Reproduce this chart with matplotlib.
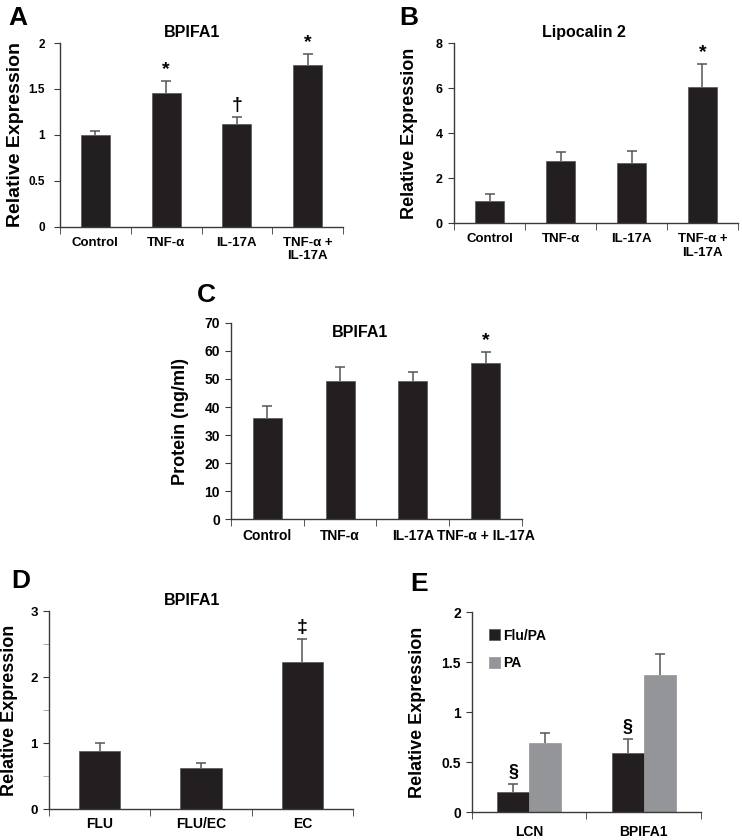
import numpy as np
import matplotlib.pyplot as plt

plt.rcParams['font.family'] = ['Liberation Sans', 'DejaVu Sans']
plt.rcParams['font.weight'] = 'bold'
plt.rcParams['axes.labelweight'] = 'bold'

# panel A - BPIFA1 mRNA
a_labels = ['Control', 'TNF-α', 'IL-17A', 'TNF-α +\nIL-17A']
a_values = [1.0, 1.455, 1.117, 1.76]
a_errors = [0.04, 0.135, 0.08, 0.12]
a_marks = ['', '*', '†', '*']

# panel B - Lipocalin 2
b_labels = ['Control', 'TNF-α', 'IL-17A', 'TNF-α +\nIL-17A']
b_values = [1.0, 2.76, 2.65, 6.06]
b_errors = [0.29, 0.41, 0.56, 1.01]
b_marks = ['', '', '', '*']

# panel C - BPIFA1 protein
c_labels = ['Control', 'TNF-α', 'IL-17A', 'TNF-α + IL-17A']
c_values = [36.0, 49.2, 49.2, 55.6]
c_errors = [4.4, 5.1, 3.3, 4.2]
c_marks = ['', '', '', '*']

# panel D
d_labels = ['FLU', 'FLU/EC', 'EC']
d_values = [0.877, 0.615, 2.224]
d_errors = [0.13, 0.08, 0.35]
d_marks = ['', '', '‡']

# panel E
e_groups = ['LCN', 'BPIFA1']
e_flupa = [0.2, 0.593]
e_flupa_err = [0.083, 0.137]
e_pa = [0.69, 1.37]
e_pa_err = [0.103, 0.21]
e_marks = ['§', '§']

BAR = '#231f20'
GREY = '#939598'
AXC = '#3a3a3a'
ERRC = '#555555'


def style_axes(ax, n, ymax, ystep, yminor=None, xsize=9.5, ysize=9, ypad=4, xpad=7):
    for s in ('top', 'right'):
        ax.spines[s].set_visible(False)
    for s in ('left', 'bottom'):
        ax.spines[s].set_color(AXC)
        ax.spines[s].set_linewidth(1.0)
    ax.set_xlim(-0.5, n - 0.5)
    ax.set_ylim(0, ymax)
    yt = np.arange(0, ymax + ystep / 2, ystep)
    ax.set_yticks(yt)
    ax.set_yticklabels(['%g' % v for v in yt])
    if yminor is not None:
        ax.set_yticks(np.arange(0, ymax, yminor), minor=True)
        ax.tick_params(axis='y', which='minor', length=4, color='#999999')
    ax.set_xticks(np.arange(-0.5, n, 1.0), minor=True)
    ax.tick_params(axis='x', which='major', length=0, pad=xpad, labelsize=xsize)
    ax.tick_params(axis='x', which='minor', length=5, color=AXC)
    ax.tick_params(axis='y', which='major', length=4, color=AXC, labelsize=ysize, pad=ypad)


def upper_err(ax, x, values, errors):
    x = np.asarray(x, dtype=float)
    tops = np.asarray(values) + np.asarray(errors)
    ax.vlines(x, values, tops, color=ERRC, linewidth=1.1, zorder=1)
    ax.plot(x, tops, linestyle='none', marker='_', markersize=7,
            markeredgewidth=1.1, color=ERRC, zorder=1)


def marks_above(ax, x, values, errors, marks, size=14):
    for xi, v, e, m in zip(x, values, errors, marks):
        if m:
            ax.annotate(m, (xi, v + e), xytext=(0, 2), textcoords='offset points',
                        ha='center', va='bottom', fontsize=size, fontweight='bold')


def bars(ax, labels, values, errors, marks, width=0.41):
    x = np.arange(len(values))
    ax.bar(x, values, width, color=BAR, edgecolor='#555555', linewidth=0.5, zorder=2)
    upper_err(ax, x, values, errors)
    ax.set_xticks(x)
    ax.set_xticklabels(labels)
    marks_above(ax, x, values, errors, marks)


fig = plt.figure(figsize=(7.42, 8.4), dpi=100)

# A
ax = fig.add_axes([0.0809, 0.7298, 0.3814, 0.2190])
bars(ax, a_labels, a_values, a_errors, a_marks)
style_axes(ax, 4, 2, 0.5, ysize=8.5, ypad=7)
ax.set_ylabel('Relative Expression', fontsize=14)
ax.yaxis.set_label_coords(-0.128, 0.5)
ax.set_title('BPIFA1', fontsize=11.5, fontweight='bold', pad=4, x=0.466)

# B
ax = fig.add_axes([0.6119, 0.7345, 0.3827, 0.2143])
bars(ax, b_labels, b_values, b_errors, b_marks)
style_axes(ax, 4, 8, 2, ysize=9, ypad=4)
ax.set_ylabel('Relative Expression', fontsize=13)
ax.yaxis.set_label_coords(-0.128, 0.5)
ax.set_title('Lipocalin 2', fontsize=11.5, fontweight='bold', pad=4, x=0.458)

# C
ax = fig.add_axes([0.3113, 0.3821, 0.3922, 0.2334])
bars(ax, c_labels, c_values, c_errors, c_marks, width=0.4)
style_axes(ax, 4, 70, 10, xsize=10, ysize=10, ypad=4)
ax.set_ylabel('Protein (ng/ml)', fontsize=13)
ax.yaxis.set_label_coords(-0.145, 0.5)
ax.text(1.27, 66.5, 'BPIFA1', ha='center', va='center', fontsize=11.5, fontweight='bold')

# D
ax = fig.add_axes([0.0660, 0.0369, 0.4097, 0.2357])
bars(ax, d_labels, d_values, d_errors, d_marks)
style_axes(ax, 3, 3, 1, yminor=0.5, xsize=10, ysize=9.5, ypad=4, xpad=6)
ax.set_ylabel('Relative Expression', fontsize=13)
ax.yaxis.set_label_coords(-0.102, 0.5)
ax.set_title('BPIFA1', fontsize=11.5, fontweight='bold', pad=4, x=0.47)

# E
ax = fig.add_axes([0.6361, 0.0333, 0.3086, 0.2381])
x = np.arange(len(e_groups))
w = 0.28
ax.bar(x - w / 2, e_flupa, w, color=BAR, edgecolor='#555555', linewidth=0.5, label='Flu/PA', zorder=2)
ax.bar(x + w / 2, e_pa, w, color=GREY, edgecolor=GREY, linewidth=0.5, label='PA', zorder=2)
upper_err(ax, x - w / 2, e_flupa, e_flupa_err)
upper_err(ax, x + w / 2, e_pa, e_pa_err)
marks_above(ax, x - w / 2, e_flupa, e_flupa_err, e_marks, size=13)
ax.set_xticks(x)
ax.set_xticklabels(e_groups)
style_axes(ax, 2, 2, 0.5, xsize=10, ysize=10, ypad=4, xpad=9)
ax.set_ylabel('Relative Expression', fontsize=13)
ax.yaxis.set_label_coords(-0.2, 0.5)
ax.legend(loc='upper left', bbox_to_anchor=(0.02, 0.98), frameon=False, fontsize=10,
          handlelength=0.8, handleheight=0.8, handletextpad=0.2, labelspacing=1.0)

# panel letters
for letter, px, py in [('A', 8, 6), ('B', 399, 6), ('C', 197, 283), ('D', 11, 569), ('E', 410, 572)]:
    fig.text(px / 742, 1 - py / 840, letter, fontsize=19, fontweight='bold', va='top', ha='left')

fig.savefig('out.png', dpi=100)
